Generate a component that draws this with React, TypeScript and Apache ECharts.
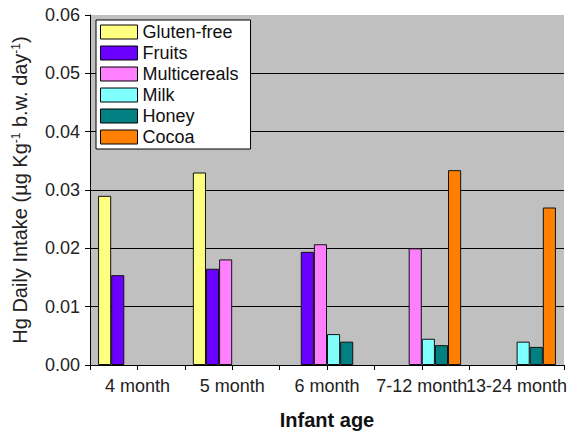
import React, { useEffect, useRef } from "react";
import * as echarts from "echarts";

// Infant age groups along the x axis
const ageGroups = ["4 month", "5 month", "6 month", "7-12 month", "13-24 month"];

// Hg daily intake (µg Kg-1 b.w. day-1) per food type; null = not reported
const glutenFree = [0.029, 0.033, null, null, null];
const fruits = [0.0154, 0.0165, 0.0194, null, null];
const multicereals = [null, 0.0181, 0.0207, 0.02, null];
const milk = [null, null, 0.0053, 0.0045, 0.004];
const honey = [null, null, 0.004, 0.0034, 0.0031];
const cocoa = [null, null, null, 0.0334, 0.027];

const seriesNames = ["Gluten-free", "Fruits", "Multicereals", "Milk", "Honey", "Cocoa"];
const seriesData = [glutenFree, fruits, multicereals, milk, honey, cocoa];
const seriesColors = ["#FFFF80", "#6A00FF", "#FF80FF", "#80FFFF", "#008080", "#FF8000"];

const FONT = "Liberation Sans, Arial, sans-serif";

export default function App() {
  const ref = useRef<HTMLDivElement>(null);

  useEffect(() => {
    if (!ref.current) return;
    const chart = echarts.init(ref.current, undefined, { renderer: "svg" });
    const gridBox = { left: 90, right: 15, top: 15, bottom: 71 };

    chart.setOption({
      animation: false,
      backgroundColor: "#ffffff",
      textStyle: { fontFamily: FONT },
      grid: [
        { ...gridBox, show: true, backgroundColor: "#C0C0C0", borderWidth: 0 },
        { ...gridBox, show: false },
      ],
      legend: {
        orient: "vertical",
        left: 96,
        top: 20,
        padding: [3, 12, 3, 4],
        backgroundColor: "#ffffff",
        borderColor: "#000000",
        borderWidth: 1,
        borderRadius: 0,
        itemWidth: 37,
        itemHeight: 14,
        itemGap: 3,
        icon: "rect",
        itemStyle: { borderColor: "#000000", borderWidth: 1 },
        textStyle: { fontFamily: FONT, fontSize: 18, color: "#111", lineHeight: 18, padding: [0, 0, 0, 0] },
        data: seriesNames,
      },
      xAxis: [
        {
          type: "category",
          gridIndex: 0,
          data: ageGroups,
          position: "bottom",
          axisLine: { show: true, lineStyle: { color: "#000", width: 1 } },
          axisTick: { show: true, length: 5, lineStyle: { color: "#000" } },
          axisLabel: { fontFamily: FONT, fontSize: 18, color: "#222", margin: 12, interval: 0 },
          name: "Infant age",
          nameLocation: "middle",
          nameGap: 45,
          nameTextStyle: { fontFamily: FONT, fontSize: 20, fontWeight: "bold", color: "#111" },
        },
        {
          // centre ticks under each age group
          type: "category",
          gridIndex: 1,
          data: ageGroups,
          position: "bottom",
          axisLine: { show: false },
          axisTick: { show: true, alignWithLabel: true, length: 5, lineStyle: { color: "#000" } },
          axisLabel: { show: false },
        },
      ],
      yAxis: [
        {
          type: "value",
          gridIndex: 0,
          min: 0,
          max: 0.06,
          interval: 0.01,
          axisLine: { show: true, lineStyle: { color: "#000", width: 1 } },
          axisTick: { show: true, length: 5, lineStyle: { color: "#000" } },
          axisLabel: {
            fontFamily: FONT,
            fontSize: 18,
            color: "#222",
            margin: 10,
            formatter: (v: number) => v.toFixed(2),
          },
          splitLine: { show: true, showMaxLine: false, lineStyle: { color: "#000", width: 1 } },
          name: "Hg Daily Intake (µg Kg{sup|-1} b.w. day{sup|-1})",
          nameLocation: "middle",
          nameGap: 60,
          nameTextStyle: {
            fontFamily: FONT,
            fontSize: 20,
            color: "#222",
            rich: {
              sup: { fontFamily: FONT, fontSize: 12, color: "#222", verticalAlign: "top" },
            },
          },
        },
        { type: "value", gridIndex: 1, show: false, min: 0, max: 0.06 },
      ],
      series: seriesNames.map((name, i) => ({
        name,
        type: "bar",
        xAxisIndex: 0,
        yAxisIndex: 0,
        data: seriesData[i],
        barGap: "0%",
        barCategoryGap: "17%",
        itemStyle: { color: seriesColors[i], borderColor: "#111", borderWidth: 1 },
      })),
    });

    return () => chart.dispose();
  }, []);

  return (
    <div
      ref={ref}
      style={{ position: "fixed", left: 0, top: 0, width: 579, height: 436 }}
    />
  );
}
